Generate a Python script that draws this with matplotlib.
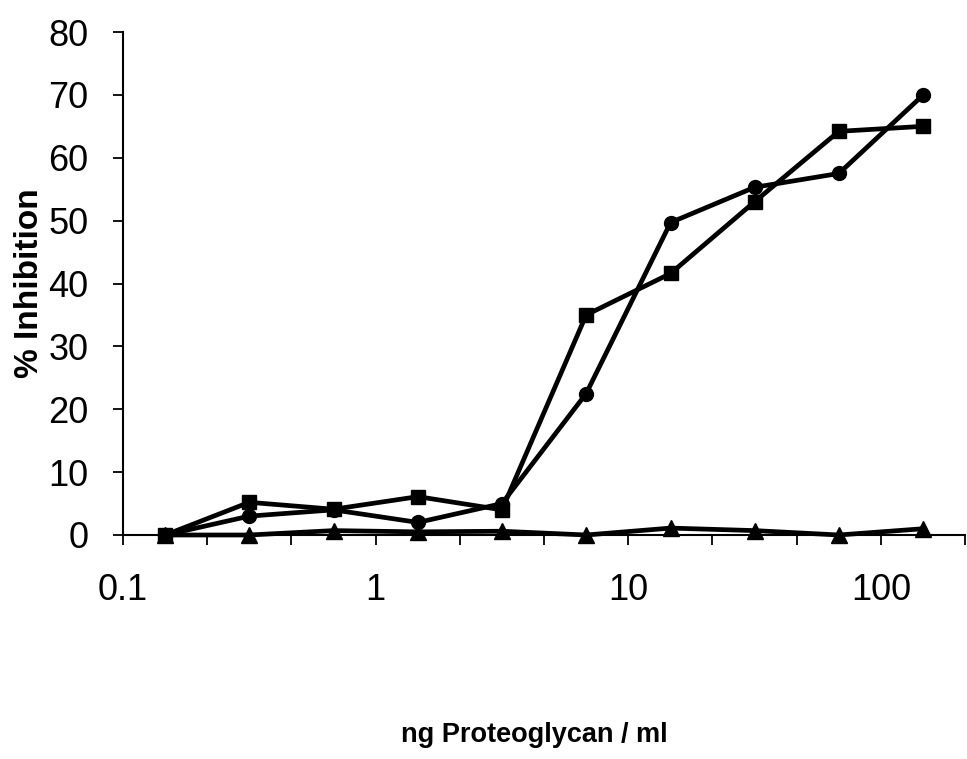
import matplotlib
matplotlib.use("Agg")
import matplotlib.pyplot as plt
from matplotlib.ticker import FixedLocator, NullLocator

# Data
conc = [0.147, 0.316, 0.681, 1.47, 3.16, 6.81, 14.7, 31.6, 68.1, 147]
inhib_circle = [0, 3.0, 4.0, 2.0, 5.0, 22.5, 49.7, 55.3, 57.5, 70.0]
inhib_square = [0, 5.2, 4.1, 6.1, 4.0, 35.0, 41.6, 53.0, 64.2, 65.0]
inhib_triangle = [0, 0, 0.7, 0.5, 0.6, 0, 1.1, 0.7, 0, 1.0]

xtick_labels = ["0.1", "1", "10", "100"]
xtick_values = [0.1, 1, 10, 100]
xtick_marks = [0.1, 0.215, 0.464, 1, 2.15, 4.64, 10, 21.5, 46.4, 100, 215]
ytick_values = [0, 10, 20, 30, 40, 50, 60, 70, 80]

plt.rcParams['font.family'] = ['Liberation Sans', 'DejaVu Sans']

fig = plt.figure(figsize=(9.67, 7.59), dpi=100)
ax = fig.add_axes([123/967, (759-535)/759, (965-123)/967, (535-32)/759])

lw = 3.4
ax.plot(conc, inhib_circle, color='black', lw=lw, marker='o', ms=10, zorder=3, clip_on=False)
ax.plot(conc, inhib_square, color='black', lw=lw, marker='s', ms=9.5, zorder=3, clip_on=False)
ax.plot(conc, inhib_triangle, color='black', lw=lw, marker='^', ms=11.5, zorder=3, clip_on=False)

ax.set_xscale('log')
ax.set_xlim(0.1, 215)
ax.set_ylim(0, 80)

ax.spines['top'].set_visible(False)
ax.spines['right'].set_visible(False)
ax.spines['left'].set_linewidth(1.5)
ax.spines['bottom'].set_linewidth(1.5)

# x ticks: unlabeled marks every third of a decade, labels at decades
ax.xaxis.set_major_locator(FixedLocator(xtick_marks))
ax.xaxis.set_minor_locator(NullLocator())
ax.set_xticklabels([])
ax.tick_params(axis='x', which='major', direction='out', length=7, width=1.3)
sec = ax.secondary_xaxis('bottom')
sec.set_xticks(xtick_values)
sec.set_xticklabels(xtick_labels)
sec.xaxis.set_minor_locator(NullLocator())
sec.tick_params(axis='x', which='both', length=0, pad=27, labelsize=26)
sec.spines['bottom'].set_visible(False)

ax.set_yticks(ytick_values)
ax.tick_params(axis='y', direction='out', length=7, width=1.3, pad=18, labelsize=26)

ax.set_ylabel('% Inhibition', fontsize=24, fontweight='bold', labelpad=2)
fig.text(534/967, (759-735)/759, 'ng Proteoglycan / ml', fontsize=19.5,
         fontweight='bold', ha='center', va='center')

fig.savefig('out.png', dpi=100)
